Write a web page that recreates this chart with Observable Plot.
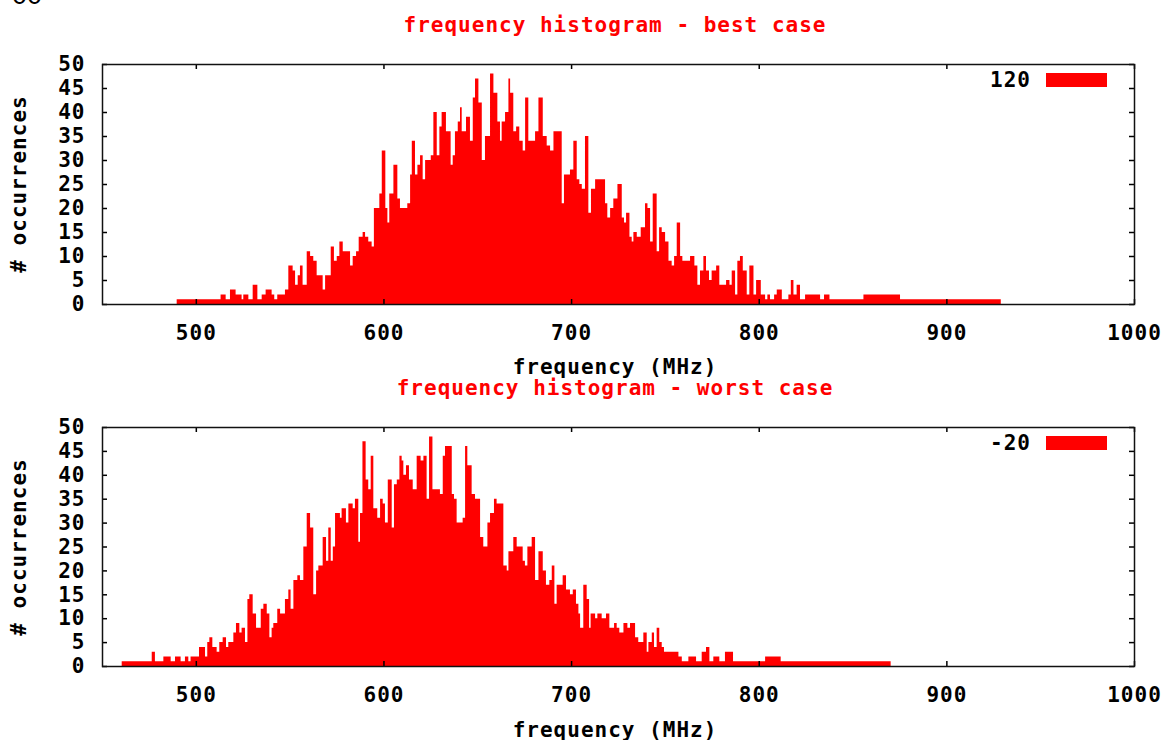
<!DOCTYPE html>
<html>
<head>
<meta charset="utf-8">
<script src="https://cdn.jsdelivr.net/npm/d3@7"></script>
<script src="https://cdn.jsdelivr.net/npm/@observablehq/plot@0.6"></script>
<style>
  html, body { margin: 0; padding: 0; background: #fff; }
  #root { position: relative; width: 1168px; height: 740px; overflow: hidden; }
  .t { position: absolute; white-space: nowrap; font-family: "DejaVu Sans Mono", monospace; font-weight: bold;
       font-size: 21px; letter-spacing: 1px; line-height: 21px; }
  .red { color: #ff0000; }
  .blk { color: #000; }
  .panel { position: absolute; left: 0; }
  .panel svg text { letter-spacing: 1px; }
  .sw { position: absolute; background: #ff0000; }
  .corner { position: absolute; font-family: "Liberation Sans", Arial, sans-serif; font-size: 27px; line-height: 27px; color: #000; }
</style>
</head>
<body>
<div id="root"></div>
<script>
// ---------- data ----------
const xTicks = [500, 600, 700, 800, 900, 1000];
const yTicks = [0, 5, 10, 15, 20, 25, 30, 35, 40, 45, 50];

// best case (legend "120"): bin start frequency (MHz) and number of occurrences
const bestStart = [
  489.8, 513.2, 515.9, 518.2, 521.2, 524.4, 525.3, 528.0, 530.3, 532.8,
  535.1, 537.2, 540.4, 541.8, 543.4, 547.5, 549.3, 551.6, 552.9, 554.3,
  555.5, 556.9, 559.1, 560.9, 562.6, 564.4, 567.6, 568.9, 571.9, 573.6,
  575.1, 576.5, 578.3, 582.2, 583.6, 585.4, 586.8, 588.9, 590.2, 591.9,
  593.7, 594.9, 597.8, 599.1, 601.0, 602.1, 603.1, 605.3, 607.4, 608.8,
  612.7, 614.2, 615.1, 616.8, 618.1, 619.5, 620.9, 622.2, 625.2, 626.6,
  628.4, 629.8, 631.0, 633.3, 635.8, 636.9, 638.1, 639.6, 640.8, 641.7,
  644.0, 646.1, 647.6, 648.8, 650.6, 652.4, 654.1, 656.8, 658.6, 660.7,
  662.1, 663.0, 664.8, 666.6, 667.5, 669.2, 670.7, 672.4, 674.2, 675.5,
  677.2, 680.8, 682.6, 684.9, 687.0, 688.8, 690.6, 695.0, 696.2, 699.4,
  701.2, 703.0, 704.4, 705.7, 707.4, 709.2, 710.6, 712.8, 718.1, 719.3,
  720.8, 722.5, 724.7, 727.0, 728.2, 729.3, 731.1, 732.3, 733.2, 735.0,
  737.1, 739.4, 740.7, 742.1, 743.5, 745.6, 746.9, 748.3, 750.1, 751.9,
  753.6, 754.9, 756.3, 758.1, 759.3, 763.4, 765.7, 767.3, 768.7, 770.5,
  771.9, 773.5, 774.9, 777.3, 779.0, 782.6, 784.4, 785.6, 787.4, 788.6,
  790.0, 791.5, 793.6, 795.0, 797.2, 798.6, 801.1, 803.4, 804.6, 806.0,
  808.2, 809.6, 812.3, 815.8, 817.1, 818.5, 820.2, 822.0, 824.7, 832.7,
  834.8, 837.7, 855.8, 875.3
];
const bestCount = [
  1, 2, 1, 3, 2, 1, 2, 1, 4, 1,
  2, 3, 2, 1, 2, 3, 8, 7, 4, 6,
  8, 4, 11, 10, 9, 6, 3, 6, 12, 9,
  10, 13, 11, 8, 10, 11, 14, 15, 14, 13,
  12, 20, 23, 32, 20, 17, 23, 29, 22, 20,
  21, 27, 34, 27, 29, 31, 26, 30, 31, 40,
  31, 37, 40, 36, 29, 31, 36, 38, 41, 36,
  39, 34, 43, 47, 42, 30, 35, 48, 44, 38,
  34, 38, 40, 47, 44, 36, 37, 34, 32, 43,
  34, 36, 43, 35, 33, 32, 36, 21, 27, 28,
  34, 26, 25, 24, 35, 19, 24, 26, 21, 18,
  20, 22, 25, 18, 17, 19, 14, 13, 15, 14,
  16, 21, 20, 13, 23, 11, 16, 15, 13, 9,
  8, 10, 17, 10, 9, 10, 8, 4, 7, 10,
  7, 5, 7, 8, 4, 5, 4, 7, 2, 9,
  10, 7, 2, 8, 2, 5, 2, 1, 2, 1,
  2, 3, 1, 2, 5, 2, 4, 1, 2, 1,
  2, 1, 2, 1
];
const bestEnd = 929.0;

// worst case (legend "-20")
const worstStart = [
  460.5, 476.5, 478.2, 482.7, 486.6, 488.9, 491.9, 494.2, 496.0, 497.2,
  501.7, 504.9, 506.1, 507.2, 508.8, 511.1, 512.5, 514.3, 516.1, 517.3,
  520.0, 521.4, 523.2, 524.4, 526.2, 527.5, 528.5, 530.3, 532.1, 534.6,
  536.0, 537.8, 539.2, 540.4, 541.3, 543.4, 544.9, 547.5, 549.3, 550.5,
  552.0, 554.1, 555.5, 557.3, 559.1, 560.9, 562.6, 564.1, 565.3, 567.6,
  569.4, 570.6, 571.9, 573.0, 574.2, 576.8, 577.7, 580.0, 581.3, 583.6,
  584.8, 586.6, 587.5, 588.8, 590.5, 591.9, 593.2, 594.6, 596.7, 598.2,
  599.6, 600.8, 602.3, 604.4, 605.6, 607.1, 608.5, 609.7, 610.6, 612.0,
  613.6, 615.6, 617.7, 619.8, 621.3, 623.0, 624.3, 626.1, 630.1, 631.6,
  632.8, 636.4, 637.6, 639.0, 642.2, 643.5, 644.7, 647.0, 648.8, 651.5,
  653.2, 655.4, 656.8, 658.9, 660.3, 663.9, 665.7, 666.6, 669.2, 671.0,
  674.2, 675.4, 676.7, 679.0, 680.8, 682.6, 684.9, 686.6, 688.4, 689.7,
  691.1, 692.3, 695.5, 697.3, 699.4, 700.9, 702.6, 703.9, 704.8, 706.5,
  708.3, 709.6, 710.4, 712.8, 714.0, 716.3, 718.6, 720.4, 722.9, 724.3,
  725.7, 727.9, 730.0, 731.4, 734.1, 735.8, 738.5, 740.3, 741.2, 743.0,
  744.2, 745.6, 747.0, 748.3, 749.5, 757.2, 759.0, 762.5, 766.6, 769.6,
  771.9, 773.7, 775.8, 779.0, 782.0, 786.3, 803.4, 811.7
];
const worstCount = [
  1, 3, 1, 2, 1, 2, 1, 2, 1, 2,
  4, 2, 5, 6, 4, 3, 5, 6, 4, 5,
  7, 9, 7, 8, 5, 14, 15, 11, 8, 12,
  13, 11, 6, 8, 9, 12, 11, 14, 16, 12,
  18, 19, 18, 25, 32, 29, 15, 20, 21, 27,
  22, 29, 22, 25, 32, 31, 33, 30, 34, 33,
  35, 26, 32, 47, 39, 37, 44, 33, 31, 35,
  34, 30, 39, 29, 38, 39, 44, 43, 40, 42,
  39, 37, 44, 43, 44, 35, 48, 37, 36, 44,
  46, 36, 35, 30, 31, 46, 42, 36, 35, 27,
  25, 30, 32, 35, 34, 21, 20, 24, 27, 25,
  22, 21, 25, 27, 18, 24, 20, 17, 18, 21,
  13, 17, 19, 16, 15, 16, 13, 11, 8, 17,
  14, 8, 11, 10, 11, 10, 11, 8, 9, 8,
  7, 9, 8, 9, 6, 5, 7, 3, 5, 7,
  4, 8, 5, 4, 3, 2, 1, 2, 1, 3,
  4, 1, 2, 1, 3, 1, 2, 1
];
const worstEnd = 870.3;

const panels = [
  { title: "frequency histogram - best case", legend: "120", start: bestStart, count: bestCount, end: bestEnd },
  { title: "frequency histogram - worst case", legend: "-20", start: worstStart, count: worstCount, end: worstEnd }
];

// ---------- layout ----------
const root = document.getElementById("root");
const W = 1168, mL = 102, mR = 34, mT = 64;
const layout = [
  { top: 0,   height: 370, mB: 66 },
  { top: 363, height: 377, mB: 74 }
];

// step outline of the histogram: each bin holds its count until the next bin starts
function steps(p) {
  const n = Math.min(p.start.length, p.count.length);
  const out = [];
  for (let i = 0; i < n; i++) out.push({ x: p.start[i], count: p.count[i] });
  out.push({ x: p.end, count: p.count[n - 1] });
  return out;
}

function addText(txt, cls, left, baseline, opts = {}) {
  const d = document.createElement("div");
  d.className = "t " + cls;
  d.textContent = txt;
  d.style.top = (baseline - 17.8) + "px";
  if (opts.align === "center") { d.style.left = left + "px"; d.style.transform = "translateX(-50%)"; }
  else if (opts.align === "right") { d.style.right = (W - left) + "px"; }
  else d.style.left = left + "px";
  root.appendChild(d);
  return d;
}

panels.forEach((p, k) => {
  const L = layout[k];
  const fw = W - mL - mR;
  const fh = L.height - mT - L.mB;
  const chart = Plot.plot({
    width: W, height: L.height,
    marginTop: mT, marginBottom: L.mB, marginLeft: mL, marginRight: mR,
    style: { fontFamily: "DejaVu Sans Mono, monospace", fontSize: "21px", fontWeight: "bold", color: "#000", background: "transparent" },
    x: { domain: [450, 1000] },
    y: { domain: [0, 50] },
    marks: [
      Plot.areaY(steps(p), { x: "x", y: "count", curve: "step-after", fill: "#ff0000" }),
      Plot.tickX(xTicks, { x: d => d, insetTop: fh - 5, stroke: "#000", strokeWidth: 1.5 }),
      Plot.tickX(xTicks, { x: d => d, insetBottom: fh - 5, stroke: "#000", strokeWidth: 1.5 }),
      Plot.tickY(yTicks, { y: d => d, insetRight: fw - 5, stroke: "#000", strokeWidth: 1.5 }),
      Plot.tickY(yTicks, { y: d => d, insetLeft: fw - 5, stroke: "#000", strokeWidth: 1.5 }),
      Plot.frame({ stroke: "#111", strokeWidth: 1.5 }),
      Plot.axisX(xTicks, { tickSize: 0, tickPadding: 21, tickFormat: d => String(d), label: null }),
      Plot.axisY(yTicks, { tickSize: 0, tickPadding: 17, tickFormat: d => String(d), label: null })
    ]
  });
  const wrap = document.createElement("div");
  wrap.className = "panel";
  wrap.style.top = L.top + "px";
  wrap.appendChild(chart);
  root.appendChild(wrap);

  // titles, axis labels, legend
  addText(p.title, "red", 615, L.top + 33, { align: "center" });
  addText("frequency (MHz)", "blk", 615, L.top + 375, { align: "center" });
  const yl = document.createElement("div");
  yl.className = "t blk";
  yl.textContent = "# occurrences";
  yl.style.left = "19px";
  yl.style.top = (L.top + 184) + "px";
  yl.style.transform = "translate(-50%,-50%) rotate(-90deg)";
  root.appendChild(yl);
  addText(p.legend, "blk", 1031, L.top + 88, { align: "right" });
  const sw = document.createElement("div");
  sw.className = "sw";
  sw.style.left = "1046px"; sw.style.top = (L.top + 73) + "px";
  sw.style.width = "61px"; sw.style.height = "14px";
  root.appendChild(sw);
});

const c = document.createElement("div");
c.className = "corner";
c.textContent = "00";
c.style.left = "12px"; c.style.top = "-18px";
root.appendChild(c);
</script>
</body>
</html>
